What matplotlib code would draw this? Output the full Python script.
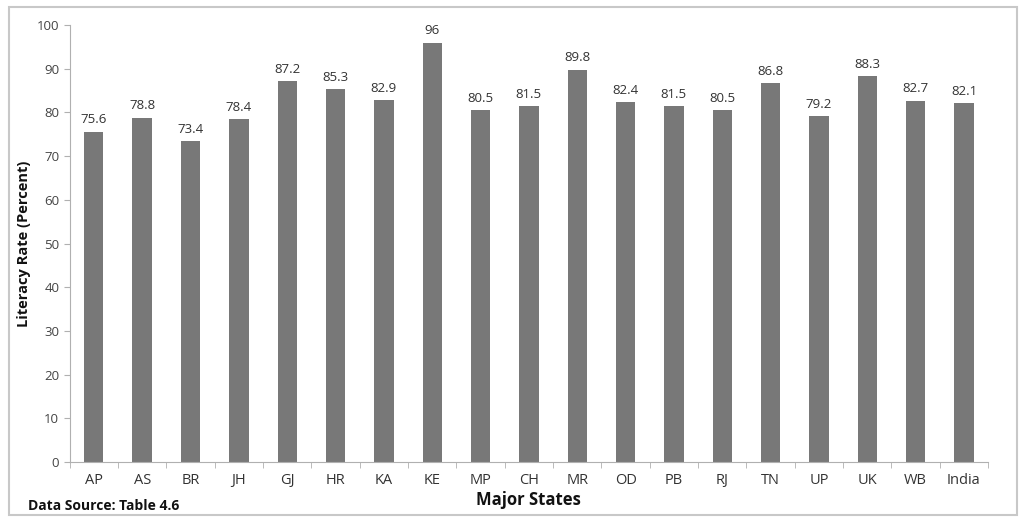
import numpy as np
import matplotlib
matplotlib.use("Agg")
import matplotlib.pyplot as plt
from matplotlib.patches import FancyBboxPatch

states = ['AP', 'AS', 'BR', 'JH', 'GJ', 'HR', 'KA', 'KE', 'MP', 'CH',
          'MR', 'OD', 'PB', 'RJ', 'TN', 'UP', 'UK', 'WB', 'India']
literacy = [75.6, 78.8, 73.4, 78.4, 87.2, 85.3, 82.9, 96, 80.5, 81.5,
            89.8, 82.4, 81.5, 80.5, 86.8, 79.2, 88.3, 82.7, 82.1]
yticks = list(range(0, 101, 10))

plt.rcParams['font.family'] = ['Open Sans', 'DejaVu Sans']

fig = plt.figure(figsize=(10.24, 5.23), dpi=100)
ax = fig.add_axes([0.068, 0.1166, 0.897, 0.8354])

# outer frame
frame = FancyBboxPatch((0.009, 0.016), 0.984, 0.97, boxstyle="square,pad=0",
                       transform=fig.transFigure, fill=False,
                       edgecolor='#c8c8c8', linewidth=1.5)
fig.patches.append(frame)

x = np.arange(len(states))
bars = ax.bar(x, literacy, width=0.4, color='#787878')
for xi, v in zip(x, literacy):
    ax.text(xi, v + 1.2, f"{v:g}", ha='center', va='bottom', fontsize=9.5,
            color='#333333')

ax.set_xlim(-0.5, len(states) - 0.5)
ax.set_ylim(0, 100)
ax.set_yticks(yticks)
ax.set_xticks(x)
ax.set_xticklabels(states, fontsize=10.5, color='#333333')
ax.tick_params(axis='y', labelsize=9.5, colors='#444444', length=4,
               color='#b0b0b0')
ax.tick_params(axis='x', length=0, pad=8)
# category boundary ticks on x axis
ax.set_xticks(np.arange(-0.5, len(states), 1), minor=True)
ax.tick_params(axis='x', which='minor', length=4, color='#b0b0b0')

for s in ['top', 'right']:
    ax.spines[s].set_visible(False)
for s in ['left', 'bottom']:
    ax.spines[s].set_color('#b0b0b0')

ax.set_ylabel('Literacy Rate (Percent)', fontsize=10.5, fontweight='bold',
              color='#111111', labelpad=4)
ax.set_xlabel('Major States', fontsize=12, fontweight='bold',
              color='#111111', labelpad=2)
fig.text(0.027, 0.024, 'Data Source: Table 4.6', fontsize=10,
         fontweight='bold', color='#111111')

fig.savefig('out.png', dpi=100)
